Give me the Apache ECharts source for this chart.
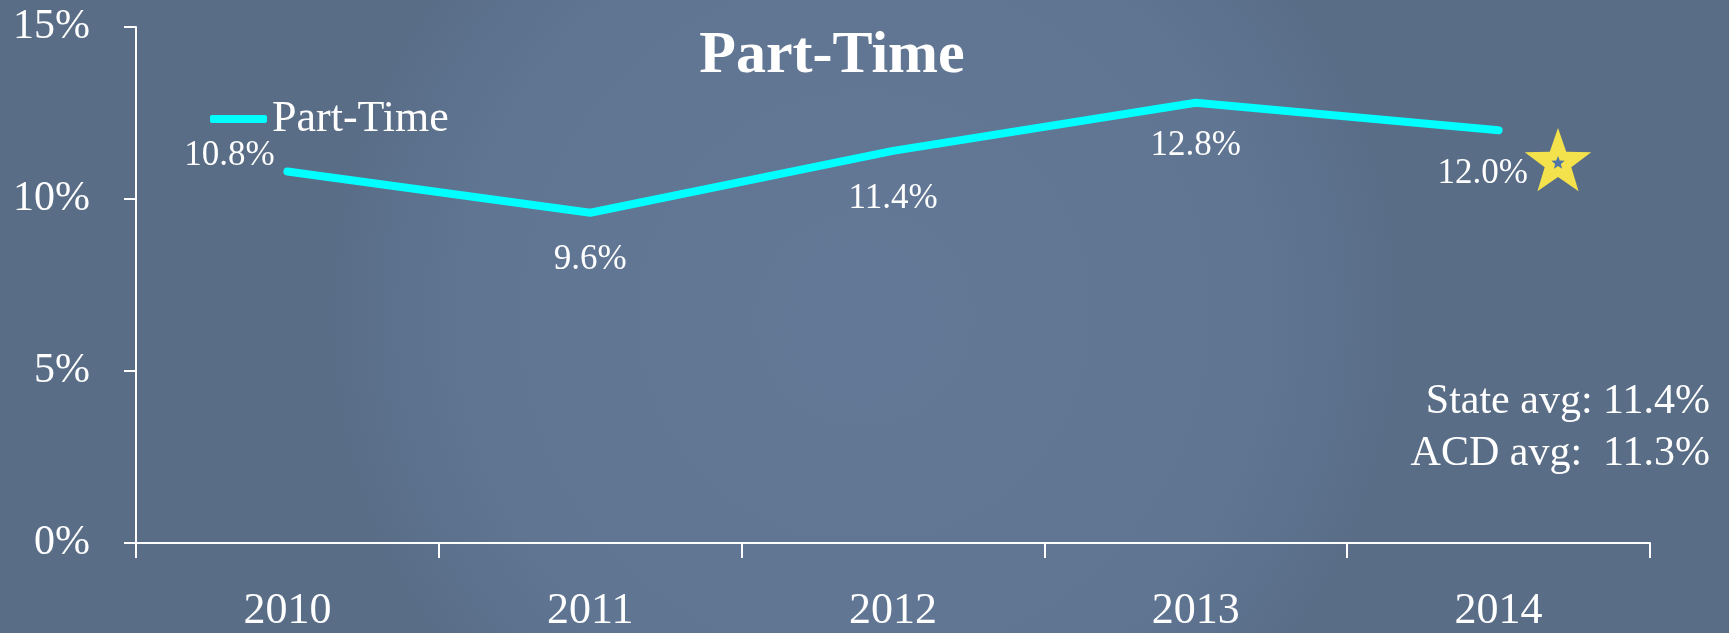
<!DOCTYPE html>
<html>
<head>
<meta charset="utf-8">
<script src="https://cdn.jsdelivr.net/npm/echarts@6/dist/echarts.min.js"></script>
<style>
html,body{margin:0;padding:0;background:#5f7592;}
#main{width:1729px;height:633px;}
</style>
</head>
<body>
<div id="main"></div>
<script>
// ---- data ----
const categories = ['2010', '2011', '2012', '2013', '2014'];
const partTime = [10.8, 9.6, 11.4, 12.8, 12.0];
const yTicks = [0, 5, 10, 15];
const seriesName = 'Part-Time';
const chartTitle = 'Part-Time';
const statsLines = ['State avg: 11.4%', 'ACD avg:  11.3%'];

// ---- styling (label placement per point, in px) ----
const labelOffsets = [[-58, -16], [0, 47], [0, 48], [0, 43], [-16, 44]];
const FONT = '"Liberation Serif", "DejaVu Serif", serif';

function starPoints(cx, cy, R, r) {
  const pts = [];
  for (let i = 0; i < 10; i++) {
    const rad = (i % 2 === 0) ? R : r;
    const a = -Math.PI / 2 + i * Math.PI / 5;
    pts.push([cx + rad * Math.cos(a), cy + rad * Math.sin(a)]);
  }
  return pts;
}

const chart = echarts.init(document.getElementById('main'));
const option = {
  backgroundColor: {
    type: 'radial', x: 0.5, y: 0.5, r: 0.85,
    colorStops: [{offset: 0, color: '#627896'}, {offset: 0.75, color: '#5f7592'}, {offset: 1, color: '#596d87'}]
  },
  animation: false,
  grid: {left: 136, right: 79, top: 27, bottom: 88, containLabel: false},
  legend: {
    data: [seriesName],
    left: 205, top: 92,
    icon: 'roundRect',
    itemWidth: 57, itemHeight: 8, itemGap: 5,
    textStyle: {color: '#ffffff', fontSize: 44, fontFamily: FONT, padding: [0, 0, 0, 0]}
  },
  xAxis: {
    type: 'category',
    data: categories,
    boundaryGap: true,
    axisLine: {lineStyle: {color: '#ffffff', width: 2}},
    axisTick: {show: true, length: 15, inside: false, lineStyle: {color: '#ffffff', width: 2}},
    axisLabel: {color: '#ffffff', fontSize: 44, fontFamily: FONT, margin: 46},
    splitLine: {show: false}
  },
  yAxis: {
    type: 'value',
    min: yTicks[0], max: yTicks[yTicks.length - 1], interval: 5,
    axisLine: {show: true, lineStyle: {color: '#ffffff', width: 2}},
    axisTick: {show: true, length: 12, inside: false, lineStyle: {color: '#ffffff', width: 2}},
    axisLabel: {color: '#ffffff', fontSize: 42, fontFamily: FONT, margin: 46, formatter: '{value}%'},
    splitLine: {show: false}
  },
  series: [{
    name: seriesName,
    type: 'line',
    data: partTime.map((v, i) => ({
      value: v,
      label: {offset: labelOffsets[i]}
    })),
    symbol: 'circle',
    symbolSize: 1,
    showSymbol: true,
    itemStyle: {color: '#00ffff', opacity: 1},
    lineStyle: {color: '#00ffff', width: 8, cap: 'round', join: 'round'},
    label: {
      show: true,
      position: 'inside',
      color: '#ffffff',
      fontSize: 35,
      fontFamily: FONT,
      formatter: p => p.value.toFixed(1) + '%'
    }
  }],
  graphic: [
    {
      type: 'text', x: 832, y: 56,
      style: {text: chartTitle, fill: '#ffffff', font: 'bold 60px ' + FONT, textAlign: 'center', textVerticalAlign: 'middle'}
    },
    {
      type: 'text', x: 1710, y: 402,
      style: {text: statsLines[0], fill: '#ffffff', font: '42px ' + FONT, textAlign: 'right', textVerticalAlign: 'middle'}
    },
    {
      type: 'text', x: 1710, y: 454,
      style: {text: statsLines[1], fill: '#ffffff', font: '42px ' + FONT, textAlign: 'right', textVerticalAlign: 'middle'}
    },
    {
      type: 'polygon',
      shape: {points: starPoints(1558, 163, 35, 14)},
      style: {fill: '#f4e24c'}
    },
    {
      type: 'polygon',
      shape: {points: starPoints(1558, 163, 7, 3)},
      style: {fill: '#4f74a8'}
    }
  ]
};
chart.setOption(option);
</script>
</body>
</html>
